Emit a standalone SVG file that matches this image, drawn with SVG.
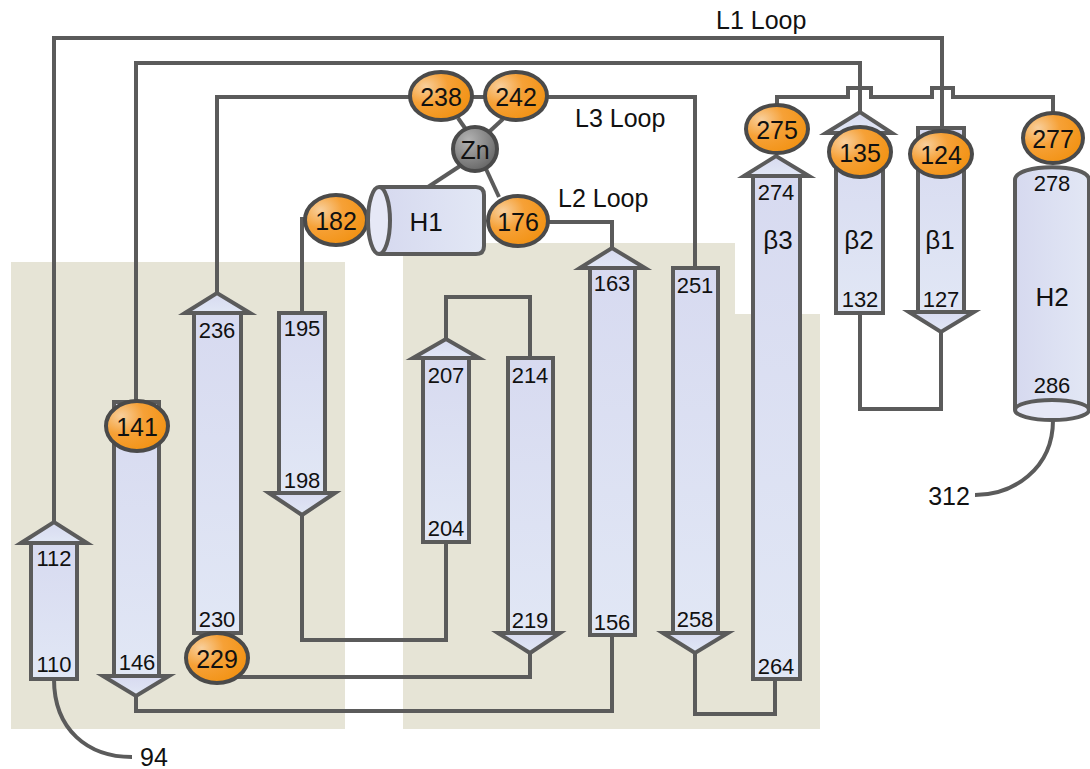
<svg xmlns="http://www.w3.org/2000/svg" width="1090" height="769" viewBox="0 0 1090 769">
<defs>
<linearGradient id="gS" x1="0" y1="0" x2="0" y2="1">
<stop offset="0" stop-color="#d7daf0"/>
<stop offset="1" stop-color="#e1e7f5"/>
</linearGradient>
<linearGradient id="gH" x1="0" y1="0" x2="1" y2="0">
<stop offset="0" stop-color="#d6d9ef"/>
<stop offset="1" stop-color="#e2e7f5"/>
</linearGradient>
<radialGradient id="gO" cx="0.25" cy="0.3" r="0.8">
<stop offset="0" stop-color="#f8cf9c"/>
<stop offset="0.45" stop-color="#f6a137"/>
<stop offset="1" stop-color="#f29213"/>
</radialGradient>
<radialGradient id="gZ" cx="0.35" cy="0.3" r="0.8">
<stop offset="0" stop-color="#b3b3b3"/>
<stop offset="1" stop-color="#606060"/>
</radialGradient>
<style>
.bg{fill:#e6e4d6;stroke:none}
.st{fill:url(#gS);stroke:#5b5b5b;stroke-width:4;stroke-linejoin:miter}
.hx{fill:url(#gH);stroke:#5b5b5b;stroke-width:4}
.cap{fill:#e6e8f6;stroke:#5b5b5b;stroke-width:4}
.ov{fill:url(#gO);stroke:#4a4a4a;stroke-width:4}
.zn{fill:url(#gZ);stroke:#4a4a4a;stroke-width:4}
.ln{fill:none;stroke:#5b5b5b;stroke-width:4;stroke-linejoin:miter}
text{font-family:"Liberation Sans",Arial,sans-serif;fill:#111;text-anchor:middle;dominant-baseline:central}
.n{font-size:22px}
.o{font-size:25px}
.b{font-size:26px}
.lp{font-size:25px;text-anchor:start}
</style>
</defs>
<g id="background">
<rect class="bg" x="11" y="262" width="334" height="467"/>
<polygon class="bg" points="403,243 735,243 735,314 820,314 820,729 403,729"/>
</g>
<g id="connectors">
<path class="ln" d="M54,522 V38 H942 V128"/>
<path class="ln" d="M136,401 V63 H860 V112"/>
<path class="ln" d="M217,293 V97 H410"/>
<path class="ln" d="M473,97 H484"/>
<path class="ln" d="M547,97 H695 V268"/>
<path class="ln" d="M777,105 V97 H848 V88 H871 V97 H932 V88 H953 V97 H1053 V113"/>
<path class="ln" d="M458,118 L467,131"/>
<path class="ln" d="M503,119 L490,131"/>
<path class="ln" d="M460,166 L428,187"/>
<path class="ln" d="M486,169 L499,197"/>
<path class="ln" d="M548,222 H612 V248"/>
<path class="ln" d="M307,219 H302 V313"/>
<path class="ln" d="M302,515 V640 H446 V542"/>
<path class="ln" d="M446,339 V297 H530 V358"/>
<path class="ln" d="M237,677 H530 V653"/>
<path class="ln" d="M136,696 V711 H612 V635"/>
<path class="ln" d="M695,653 V714 H775 V679"/>
<path class="ln" d="M860,313 V409 H941 V332"/>
<path class="ln" d="M54,679 C54,730 88,757 132,757"/>
<path class="ln" d="M1053,420 C1053,470 1012,495 975,495"/>
</g>
<g id="s112">
<rect class="st" x="31" y="543" width="46" height="136"/>
<polygon class="st" points="21,543 54,522 87,543"/>
<text class="n" x="54" y="558">112</text>
<text class="n" x="54" y="664">110</text>
</g>
<g id="s141">
<rect class="st" x="114" y="402" width="45" height="274"/>
<polygon class="st" points="103,676 136,696 169,676"/>
<ellipse class="ov" cx="137" cy="426" rx="31" ry="25"/>
<text class="o" x="137" y="427">141</text>
<text class="n" x="137" y="662">146</text>
</g>
<g id="s236">
<rect class="st" x="194" y="313" width="47" height="320"/>
<polygon class="st" points="185,313 217,293 250,313"/>
<text class="n" x="217" y="330">236</text>
<text class="n" x="217" y="619">230</text>
</g>
<g id="r229">
<ellipse class="ov" cx="217" cy="658" rx="31" ry="25"/>
<text class="o" x="217" y="659">229</text>
</g>
<g id="s195">
<rect class="st" x="279" y="313" width="46" height="180"/>
<polygon class="st" points="269,493 302,515 335,493"/>
<text class="n" x="302" y="328">195</text>
<text class="n" x="302" y="480">198</text>
</g>
<g id="r182">
<ellipse class="ov" cx="336" cy="220" rx="31" ry="25"/>
<text class="o" x="336" y="221">182</text>
</g>
<g id="h1">
<path class="hx" d="M379,187 H476 Q484,187 484,195 V246 Q484,254 476,254 H379"/>
<ellipse class="cap" cx="379" cy="220.5" rx="11" ry="33.5"/>
<text class="b" x="426" y="222">H1</text>
</g>
<g id="zn">
<circle class="zn" cx="475" cy="149" r="22"/>
<text class="o" x="475" y="150">Zn</text>
</g>
<g id="r238">
<ellipse class="ov" cx="441" cy="96" rx="31" ry="24"/>
<text class="o" x="441" y="97">238</text>
</g>
<g id="r242">
<ellipse class="ov" cx="516" cy="96" rx="31" ry="24"/>
<text class="o" x="516" y="97">242</text>
</g>
<g id="r176">
<ellipse class="ov" cx="518" cy="221" rx="30" ry="25"/>
<text class="o" x="518" y="222">176</text>
</g>
<g id="s207">
<rect class="st" x="423" y="358" width="46" height="184"/>
<polygon class="st" points="413,358 446,339 479,358"/>
<text class="n" x="446" y="375">207</text>
<text class="n" x="446" y="528">204</text>
</g>
<g id="s214">
<rect class="st" x="508" y="358" width="45" height="275"/>
<polygon class="st" points="498,633 530,653 560,633"/>
<text class="n" x="530" y="375">214</text>
<text class="n" x="530" y="620">219</text>
</g>
<g id="s163">
<rect class="st" x="590" y="268" width="45" height="367"/>
<polygon class="st" points="580,268 612,248 645,268"/>
<text class="n" x="612" y="283">163</text>
<text class="n" x="612" y="622">156</text>
</g>
<g id="s251">
<rect class="st" x="673" y="268" width="45" height="365"/>
<polygon class="st" points="663,633 695,653 728,633"/>
<text class="n" x="695" y="285">251</text>
<text class="n" x="695" y="619">258</text>
</g>
<g id="b3">
<rect class="st" x="753" y="176" width="47" height="503"/>
<polygon class="st" points="744,176 776,156 809,176"/>
<text class="n" x="776" y="192">274</text>
<text class="b" x="778" y="240">β3</text>
<text class="n" x="776" y="666">264</text>
</g>
<g id="r275">
<ellipse class="ov" cx="777" cy="129" rx="31" ry="24"/>
<text class="o" x="777" y="130">275</text>
</g>
<g id="b2">
<rect class="st" x="836" y="133" width="47" height="180"/>
<polygon class="st" points="826,133 860,112 892,133"/>
<ellipse class="ov" cx="860" cy="152" rx="31" ry="25"/>
<text class="o" x="860" y="153">135</text>
<text class="b" x="859" y="240">β2</text>
<text class="n" x="860" y="299">132</text>
</g>
<g id="b1">
<rect class="st" x="918" y="128" width="46" height="184"/>
<polygon class="st" points="909,312 941,332 974,312"/>
<ellipse class="ov" cx="941" cy="154" rx="31" ry="23"/>
<text class="o" x="941" y="155">124</text>
<text class="b" x="940" y="240">β1</text>
<text class="n" x="941" y="299">127</text>
</g>
<g id="r277">
<ellipse class="ov" cx="1053" cy="138" rx="30" ry="25"/>
<text class="o" x="1053" y="139">277</text>
</g>
<g id="h2">
<path class="hx" d="M1015,410 V180 C1015,163 1089,163 1089,180 V410"/>
<ellipse class="cap" cx="1052" cy="410" rx="37" ry="10"/>
<text class="n" x="1052" y="183">278</text>
<text class="b" x="1052" y="297">H2</text>
<text class="n" x="1052" y="385">286</text>
</g>
<g id="labels">
<text class="lp" x="716" y="20">L1 Loop</text>
<text class="lp" x="575" y="118">L3 Loop</text>
<text class="lp" x="558" y="198">L2 Loop</text>
<text class="o" x="949" y="496">312</text>
<text class="o" x="154" y="757">94</text>
</g>
</svg>
